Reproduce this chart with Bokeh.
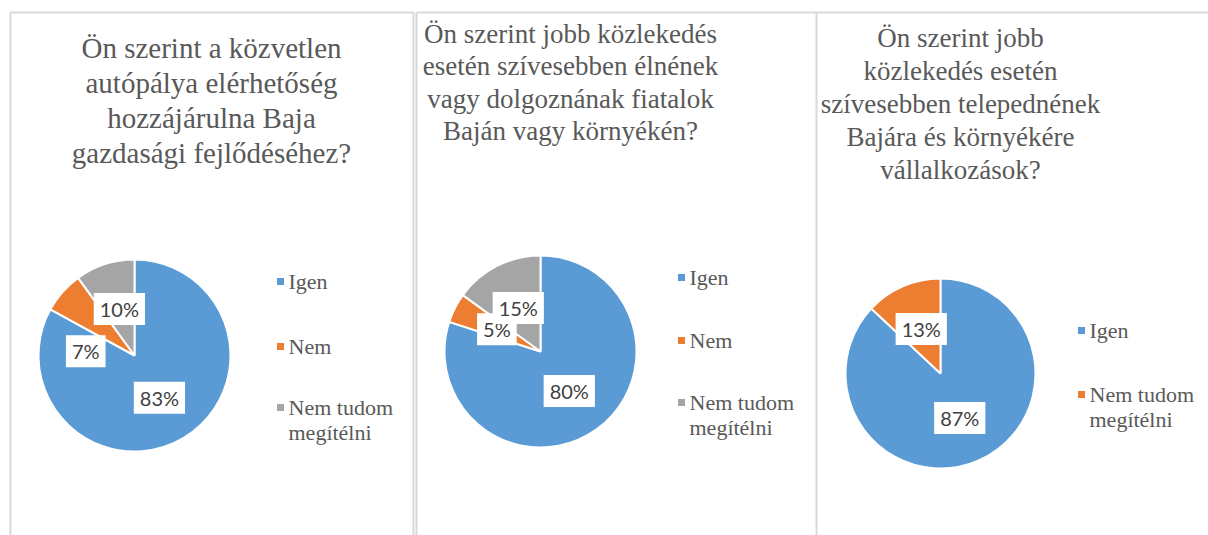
import math
from bokeh.plotting import figure
from bokeh.models import Range1d, ColumnDataSource
from bokeh.embed import file_html
from bokeh.resources import INLINE
from bokeh.core.properties import value

# ---------------- data ----------------
titles_1 = ["Ön szerint a közvetlen", "autópálya elérhetőség",
            "hozzájárulna Baja", "gazdasági fejlődéséhez?"]
titles_2 = ["Ön szerint jobb közlekedés", "esetén szívesebben élnének",
            "vagy dolgoznának fiatalok", "Baján vagy környékén?"]
titles_3 = ["Ön szerint jobb", "közlekedés esetén", "szívesebben telepednének",
            "Bajára és környékére", "vállalkozások?"]

categories_1 = ["Igen", "Nem", "Nem tudom\nmegítélni"]
values_1 = [83, 7, 10]
categories_2 = ["Igen", "Nem", "Nem tudom\nmegítélni"]
values_2 = [80, 5, 15]
categories_3 = ["Igen", "Nem tudom\nmegítélni"]
values_3 = [87, 13]

# ---------------- layout / style ----------------
W, H = 1208, 535
COLORS = ["#5B9BD5", "#ED7D31", "#A5A5A5"]
TITLE_COLOR = "#595959"
LEGEND_COLOR = "#595959"
LABEL_COLOR = "#404040"
BORDER = "#D9D9D9"


def X(sx):
    return sx


def Y(sy):
    return H - sy


panels = [
    dict(titles=titles_1, cats=categories_1, vals=values_1,
         cx=134, cy=355, r=96, tx=211, ty0=47, tdy=35, tsize="29px",
         lx=280, ly=[281, 346, 407]),
    dict(titles=titles_2, cats=categories_2, vals=values_2,
         cx=540, cy=351, r=96, tx=570, ty0=33, tdy=32.5, tsize="27px",
         lx=681, ly=[277, 340, 402]),
    dict(titles=titles_3, cats=categories_3, vals=values_3,
         cx=940, cy=373, r=95, tx=960, ty0=37, tdy=33, tsize="27px",
         lx=1081, ly=[330, 394]),
]
# best-fit label placement moved by Excel for the small slice of chart 1
label_angle_override = {(0, 1): math.radians(175)}

p = figure(width=W, height=H, x_range=Range1d(0, W), y_range=Range1d(0, H),
           output_backend="svg", toolbar_location=None, min_border=0)
p.axis.visible = False
p.grid.visible = False
p.outline_line_color = None
p.background_fill_color = "white"

# panel borders
seg_x0 = [X(10), X(416), X(816), X(10), X(413), X(416), X(816)]
seg_x1 = [X(413), X(816), X(1210), X(10), X(413), X(416), X(816)]
seg_y0 = [Y(12)] * 7
seg_y1 = [Y(12), Y(12), Y(12), Y(540), Y(540), Y(540), Y(540)]
p.segment(x0=seg_x0, y0=seg_y0, x1=seg_x1, y1=seg_y1,
          line_color=BORDER, line_width=2)

for pi_, pn in enumerate(panels):
    vals = pn["vals"]
    total = float(sum(vals))
    starts, ends = [], []
    cum = 0.0
    for v in vals:
        a0 = math.pi / 2 - 2 * math.pi * cum / total
        cum += v
        a1 = math.pi / 2 - 2 * math.pi * cum / total
        starts.append(a0)
        ends.append(a1)
    n = len(vals)
    cx, cy, r = X(pn["cx"]), Y(pn["cy"]), pn["r"]
    src = ColumnDataSource(dict(x=[cx] * n, y=[cy] * n, start=starts, end=ends,
                                color=COLORS[:n]))
    p.wedge(x="x", y="y", radius=r, start_angle="start", end_angle="end",
            direction="clock", fill_color="color", line_color="white",
            line_width=2, source=src)

    # data labels
    lxs, lys, ltxt = [], [], []
    for i, v in enumerate(vals):
        mid = (starts[i] + ends[i]) / 2
        mid = label_angle_override.get((pi_, i), mid)
        lxs.append(cx + 0.51 * r * math.cos(mid))
        lys.append(cy + 0.51 * r * math.sin(mid))
        ltxt.append(f"{v}%")
    p.text(x=lxs, y=lys, text=ltxt, text_font=value("Lato"),
           text_font_size="20px",
           text_color=LABEL_COLOR, text_align="center", text_baseline="middle",
           background_fill_color="white",
           padding=dict(left=6, right=6, top=4, bottom=4))

    # title
    tl = pn["titles"]
    p.text(x=[X(pn["tx"])] * len(tl),
           y=[Y(pn["ty0"] + k * pn["tdy"]) for k in range(len(tl))],
           text=tl, text_font=value("Liberation Serif"),
           text_font_size=pn["tsize"],
           text_color=TITLE_COLOR, text_align="center", text_baseline="middle")

    # legend
    mx = [X(pn["lx"])] * n
    my = [Y(yy) for yy in pn["ly"]]
    p.scatter(x=mx, y=my, marker="square", size=7, fill_color=COLORS[:n],
              line_color=None)
    tx_, ty_, tt_ = [], [], []
    for i, c in enumerate(pn["cats"]):
        for k, line in enumerate(c.split("\n")):
            tx_.append(X(pn["lx"] + 8))
            ty_.append(Y(pn["ly"][i] + k * 25))
            tt_.append(line)
    p.text(x=tx_, y=ty_, text=tt_, text_font=value("Liberation Serif"),
           text_font_size="22px",
           text_color=LEGEND_COLOR, text_align="left", text_baseline="middle")

open("out.html", "w").write(file_html(p, INLINE))
